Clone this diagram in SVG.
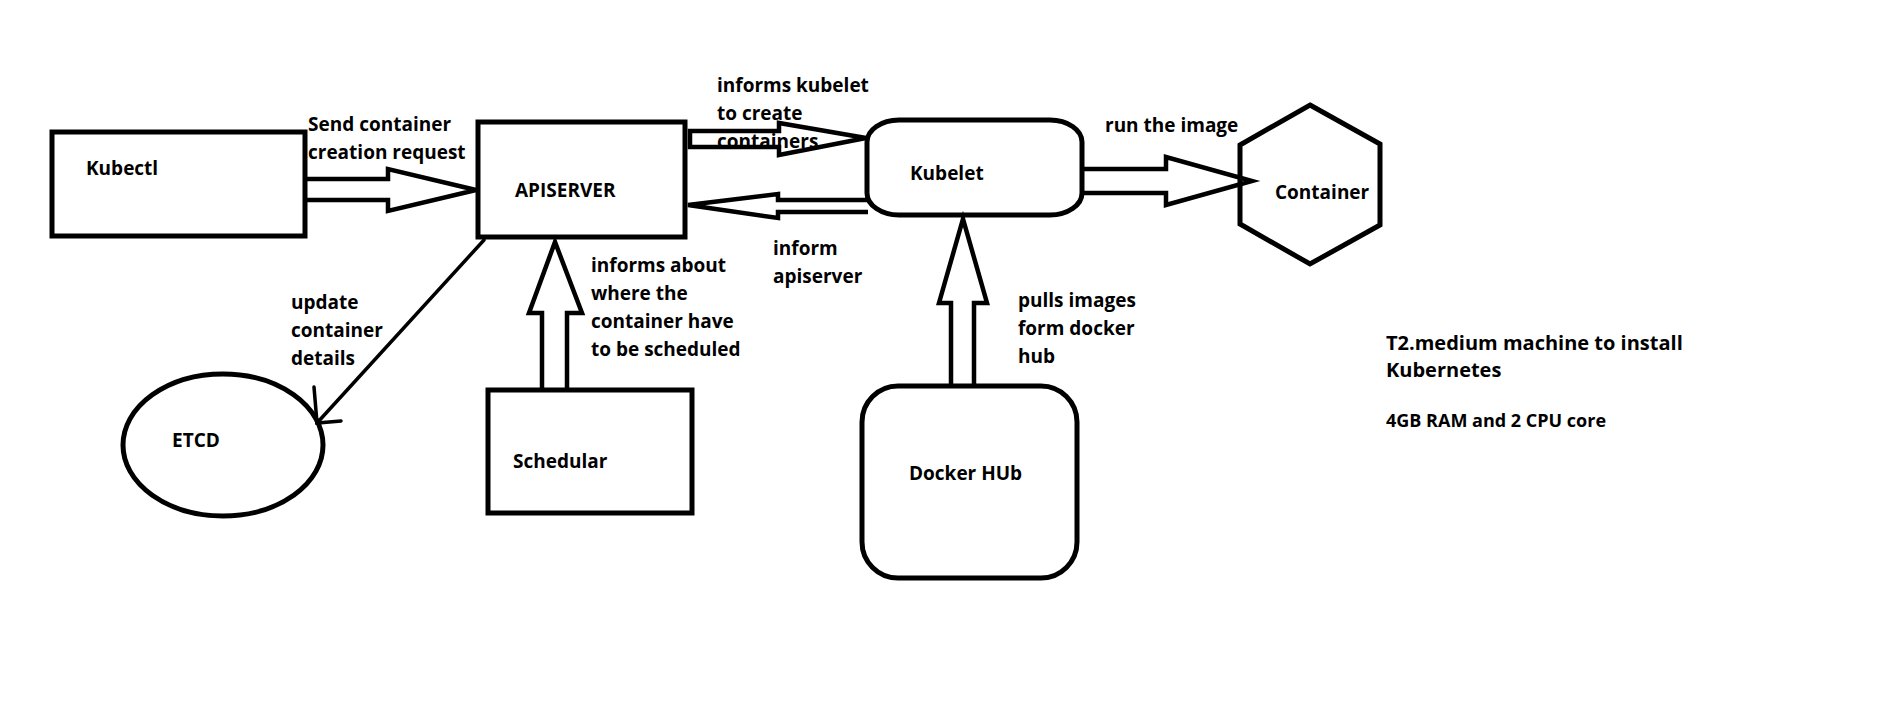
<svg xmlns="http://www.w3.org/2000/svg" width="1887" height="720" viewBox="0 0 1887 720">
<style>
.n{fill:#fff;stroke:#000;stroke-width:5}
.t{font-family:"Open Sans","Noto Sans","Liberation Sans",sans-serif;font-weight:700;font-size:19px;fill:#000}
.big{font-size:20px}
.sm{font-size:18px}
.c{fill:none;stroke:#000;stroke-width:4.5;stroke-linejoin:miter}
.thin{fill:none;stroke:#000;stroke-width:3.5;stroke-linecap:round}
</style>
<rect width="1887" height="720" fill="#fff"/>
<g id="kubectl"><rect class="n" x="52" y="132" width="253" height="104"/><text class="t" x="86" y="175">Kubectl</text></g>
<g id="apiserver"><rect class="n" x="478" y="122" width="207" height="115"/><text class="t" x="515" y="197">APISERVER</text></g>
<g id="kubelet"><rect class="n" x="867" y="120" width="215" height="95" rx="32" ry="22"/><text class="t" x="910" y="180">Kubelet</text></g>
<g id="container"><polygon class="n" points="1310,105 1380,144 1380,225 1310,264 1240,224 1240,145"/><text class="t" x="1275" y="199">Container</text></g>
<g id="etcd"><ellipse class="n" cx="223" cy="445" rx="100" ry="71"/><text class="t" x="172" y="447">ETCD</text></g>
<g id="scheduler"><rect class="n" x="488" y="390" width="204" height="123"/><text class="t" x="513" y="468">Schedular</text></g>
<g id="dockerhub"><rect class="n" x="862" y="386" width="215" height="192" rx="36" ry="36"/><text class="t" x="909" y="480">Docker HUb</text></g>
<g id="labels">
<text class="t" x="308" y="131">Send container</text><text class="t" x="308" y="159">creation request</text>
<text class="t" x="717" y="92">informs kubelet</text><text class="t" x="717" y="120">to create</text><text class="t" x="717" y="148">containers</text>
<text class="t" x="773" y="255">inform</text><text class="t" x="773" y="283">apiserver</text>
<text class="t" x="591" y="272">informs about</text><text class="t" x="591" y="300">where the</text><text class="t" x="591" y="328">container have</text><text class="t" x="591" y="356">to be scheduled</text>
<text class="t" x="291" y="309">update</text><text class="t" x="291" y="337">container</text><text class="t" x="291" y="365">details</text>
<text class="t" x="1018" y="307">pulls images</text><text class="t" x="1018" y="335">form docker</text><text class="t" x="1018" y="363">hub</text>
<text class="t" x="1105" y="132">run the image</text>
<text class="t big" x="1386" y="350">T2.medium machine to install</text><text class="t big" x="1386" y="377">Kubernetes</text>
<text class="t sm" x="1386" y="427">4GB RAM and 2 CPU core</text>
</g>
<g id="connectors">
<polyline class="c" points="306,179 388,179 388,169 476,190 388,211 388,200 306,200"/>
<polygon class="c" points="690,131 779,131 779,123 866,138 779,155 779,147 690,147"/>
<polyline class="c" points="868,200 778,200 778,194 688,205 778,218 778,212 868,212"/>
<polyline class="c" points="1082,169 1166,169 1166,157 1252,181 1166,205 1166,193 1082,193"/>
<polyline class="c" points="542,388 542,313 529,313 555,242 582,313 567,313 567,388"/>
<polyline class="c" points="951,386 951,303 939,303 963,219 987,303 974,303 974,386"/>
<line class="thin" x1="484" y1="240" x2="317" y2="423"/>
<polyline class="thin" points="314,387 317,423 341,421"/>
</g>
</svg>
